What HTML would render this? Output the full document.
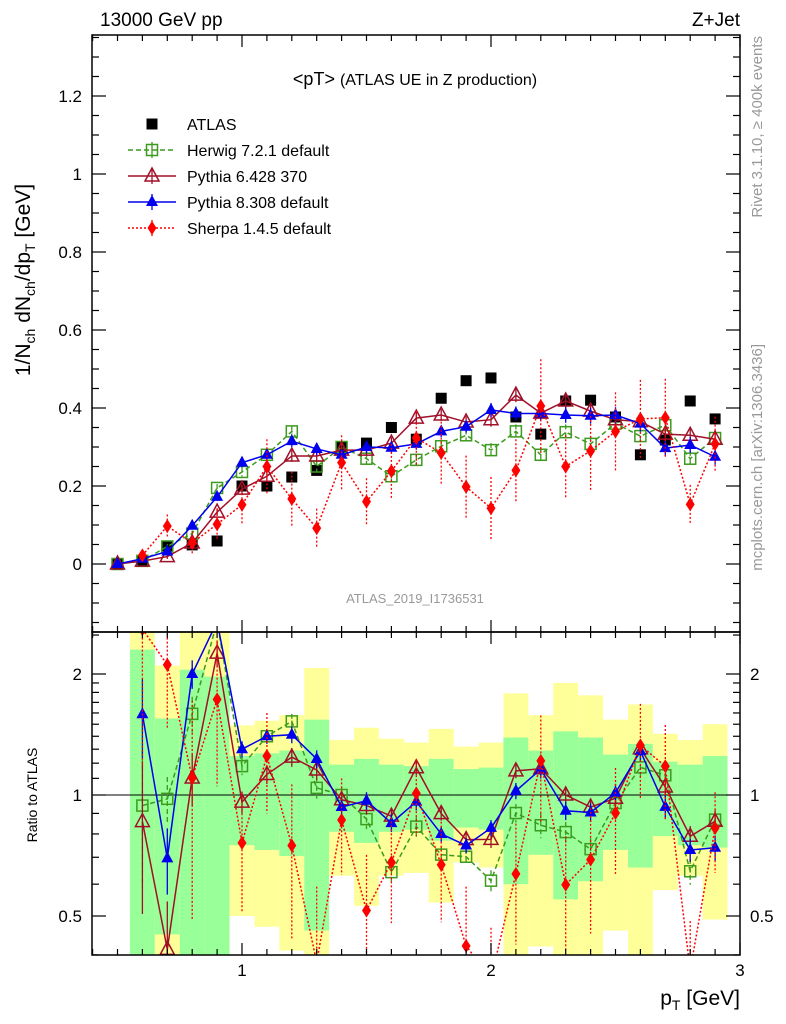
<!DOCTYPE html>
<html><head><meta charset="utf-8">
<style>
html,body{margin:0;padding:0;background:#fff;width:786px;height:1024px;overflow:hidden;}
svg{display:block;font-family:"Liberation Sans","DejaVu Sans",sans-serif;}
</style></head>
<body>
<svg id="chart" width="786" height="1024" viewBox="0 0 786 1024" xmlns="http://www.w3.org/2000/svg">
<defs>
<clipPath id="cm"><rect x="92" y="35" width="648" height="597"/></clipPath>
<clipPath id="cr"><rect x="92" y="632" width="648" height="323"/></clipPath>
</defs>
<g id="bands" clip-path="url(#cr)"></g>
<g id="main" clip-path="url(#cm)"></g>
<g id="ratio" clip-path="url(#cr)"></g>
<g id="axes"></g>
<text x="100" y="26" font-size="19">13000 GeV pp</text>
<text x="740" y="26" font-size="19" text-anchor="end">Z+Jet</text>
<text x="415" y="85" text-anchor="middle" font-size="18">&lt;pT&gt; <tspan font-size="16">(ATLAS UE in Z production)</tspan></text>
<text x="415" y="603" text-anchor="middle" font-size="13" fill="#999">ATLAS_2019_I1736531</text>
<text transform="translate(762,36) rotate(-90)" text-anchor="end" font-size="15" fill="#999">Rivet 3.1.10, ≥ 400k events</text>
<text transform="translate(762,344) rotate(-90)" text-anchor="end" font-size="15" fill="#999">mcplots.cern.ch [arXiv:1306.3436]</text>
<text transform="translate(30,280) rotate(-90)" text-anchor="middle" font-size="21">1/N<tspan font-size="14" dy="5">ch</tspan><tspan dy="-5"> dN</tspan><tspan font-size="14" dy="5">ch</tspan><tspan dy="-5">/dp</tspan><tspan font-size="14" dy="5">T</tspan><tspan dy="-5"> [GeV]</tspan></text>
<text transform="translate(37,795) rotate(-90)" text-anchor="middle" font-size="14">Ratio to ATLAS</text>
<text x="740" y="1005" text-anchor="end" font-size="21">p<tspan font-size="14" dy="5">T</tspan><tspan dy="-5"> [GeV]</tspan></text>
<g id="legend"></g>
<script>
const xs = [0.5,0.6,0.7,0.8,0.9,1.0,1.1,1.2,1.3,1.4,1.5,1.6,1.7,1.8,1.9,2.0,2.1,2.2,2.3,2.4,2.5,2.6,2.7,2.8,2.9];
const atlas = [0,0.0085,0.046,0.049,0.059,0.2,0.2,0.223,0.24,0.3,0.31,0.35,0.32,0.425,0.47,0.477,0.377,0.333,0.418,0.42,0.377,0.28,0.318,0.418,0.372];
const herwig = [0,0.008,0.045,0.078,0.195,0.236,0.28,0.34,0.25,0.30,0.27,0.225,0.267,0.302,0.33,0.292,0.34,0.28,0.338,0.308,0.36,0.328,0.356,0.27,0.323];
const pythia6 = [0,0.0073,0.019,0.054,0.133,0.192,0.225,0.277,0.277,0.292,0.292,0.31,0.374,0.382,0.364,0.37,0.433,0.387,0.418,0.392,0.37,0.365,0.333,0.33,0.32];
const pythia8 = [0,0.0135,0.032,0.098,0.172,0.26,0.28,0.315,0.295,0.28,0.3,0.298,0.308,0.34,0.352,0.395,0.386,0.386,0.382,0.38,0.382,0.36,0.297,0.305,0.275];
const sherpa = [null,0.022,0.097,0.054,0.102,0.152,0.25,0.167,0.092,0.26,0.16,0.238,0.323,0.285,0.198,0.143,0.24,0.405,0.25,0.29,0.34,0.372,0.375,0.153,0.308];
const mcErr = [0,0.003,0.006,0.008,0.01,0.012,0.012,0.015,0.015,0.015,0.015,0.015,0.015,0.015,0.015,0.018,0.018,0.02,0.02,0.02,0.02,0.02,0.02,0.02,0.02];
const sherpaErr = [0,0.012,0.03,0.03,0.04,0.05,0.07,0.07,0.05,0.07,0.06,0.07,0.07,0.08,0.08,0.08,0.08,0.12,0.08,0.1,0.1,0.1,0.1,0.05,0.07];
const greenHi = [null,2.3,1.55,2.05,1.97,1.25,1.27,1.29,1.54,1.19,1.23,1.19,1.18,1.23,1.16,1.17,1.39,1.29,1.44,1.39,1.26,1.34,1.21,1.19,1.25];
const greenLo = [null,0.3,0.45,0.3,0.3,0.75,0.73,0.705,0.46,0.81,0.76,0.81,0.82,0.77,0.83,0.82,0.6,0.71,0.55,0.61,0.73,0.66,0.79,0.75,0.74];
const yellowHi = [null,3,2.1,3,3,1.49,1.53,1.58,2.07,1.37,1.47,1.38,1.35,1.46,1.32,1.35,1.79,1.58,1.9,1.77,1.54,1.68,1.42,1.37,1.5];
const yellowLo = [null,0.3,0.3,0.3,0.3,0.5,0.47,0.41,0.3,0.63,0.53,0.63,0.64,0.54,0.68,0.66,0.4,0.42,0.3,0.3,0.46,0.3,0.58,0.63,0.49];
const yTicks = [0,0.2,0.4,0.6,0.8,1,1.2];
const yTickLabels = ["0","0.2","0.4","0.6","0.8","1","1.2"];
const rTicks = [0.5,1,2];
const rTickLabels = ["0.5","1","2"];
const xTicks = [1,2,3];
const xTickLabels = ["1","2","3"];

const NS="http://www.w3.org/2000/svg";
const X = v => 242 + (v-1)*249;
const Y = v => 564 - v*390;
const R = v => 795 - Math.log2(Math.min(Math.max(v,0.35),2.7))*121;
function mk(parent, tag, attrs){const e=document.createElementNS(NS,tag);for(const k in attrs)e.setAttribute(k,attrs[k]);parent.appendChild(e);return e;}
const gMain=document.getElementById('main'), gRatio=document.getElementById('ratio'), gBands=document.getElementById('bands'), gAxes=document.getElementById('axes'), gLeg=document.getElementById('legend');

xs.forEach((x,i)=>{
  if(greenHi[i]==null) return;
  const x0=X(x-0.05), w=X(x+0.05)-x0;
  let r=mk(gBands,'rect',{x:x0,y:R(yellowHi[i]),width:w,height:R(yellowLo[i])-R(yellowHi[i]),fill:'#ffff99'});
  
  
  r=mk(gBands,'rect',{x:x0,y:R(greenHi[i]),width:w,height:R(greenLo[i])-R(greenHi[i]),fill:'#99ff99'});
  
  
});

function marker(g,type,cx,cy,color){
  let e;
  if(type==='sq') e=mk(g,'rect',{x:cx-5.5,y:cy-5.5,width:11,height:11,fill:color});
  else if(type==='osq') e=mk(g,'rect',{x:cx-5.5,y:cy-5.5,width:11,height:11,fill:'none',stroke:color,'stroke-width':1.5});
  else if(type==='otri') e=mk(g,'polygon',{points:`${cx},${cy-8} ${cx-7},${cy+5} ${cx+7},${cy+5}`,fill:'none',stroke:color,'stroke-width':1.5});
  else if(type==='tri') e=mk(g,'polygon',{points:`${cx},${cy-7} ${cx-6},${cy+4} ${cx+6},${cy+4}`,fill:color});
  else e=mk(g,'polygon',{points:`${cx},${cy-7} ${cx-4.5},${cy} ${cx},${cy+7} ${cx+4.5},${cy}`,fill:color});
  return e;
}
const series=[
 {name:'Herwig 7.2.1 default',vals:herwig,err:mcErr,color:'#3c9a1e',dash:'5,3',m:'osq',id:'herwig'},
 {name:'Pythia 6.428 370',vals:pythia6,err:mcErr,color:'#a01028',dash:'',m:'otri',id:'pythia6'},
 {name:'Pythia 8.308 default',vals:pythia8,err:mcErr,color:'#0000ee',dash:'',m:'tri',id:'pythia8'},
 {name:'Sherpa 1.4.5 default',vals:sherpa,err:sherpaErr,color:'#ff0000',dash:'2,2',m:'dia',id:'sherpa'}
];
xs.forEach((x,i)=>{
  const e=marker(gMain,'sq',X(x),Y(atlas[i]),'#000');
  
  
});
const one=mk(gRatio,'line',{x1:92,x2:740,y1:R(1),y2:R(1),stroke:'#000','stroke-width':1});



series.forEach(s=>{
  const gm=mk(gMain,'g',{});
  
  
  const gr=mk(gRatio,'g',{});
  
  
  let pm=[],pr=[];
  xs.forEach((x,i)=>{
    const v=s.vals[i]; if(v==null) return;
    pm.push(X(x)+','+Y(v));
    if(atlas[i]>0) pr.push(X(x)+','+R(v/atlas[i]));
  });
  const lm=mk(gm,'polyline',{points:pm.join(' '),fill:'none',stroke:s.color,'stroke-width':1.5,'stroke-dasharray':s.dash});
  
  
  const lr=mk(gr,'polyline',{points:pr.join(' '),fill:'none',stroke:s.color,'stroke-width':1.5,'stroke-dasharray':s.dash});
  
  
  xs.forEach((x,i)=>{
    const v=s.vals[i]; if(v==null) return;
    const e=s.err[i];
    const eb=mk(gm,'line',{x1:X(x),x2:X(x),y1:Y(v+e),y2:Y(Math.max(v-e,0)),stroke:s.color,'stroke-width':1.3,'stroke-dasharray':s.dash});
    
    
    const mm=marker(gm,s.m,X(x),Y(v),s.color);
    
    
    if(atlas[i]>0){
      const r=v/atlas[i], rh=(v+e)/atlas[i], rl=(v-e)/atlas[i];
      const er=mk(gr,'line',{x1:X(x),x2:X(x),y1:R(rh),y2:R(rl),stroke:s.color,'stroke-width':1.3,'stroke-dasharray':s.dash});
      
      
      const mr=marker(gr,s.m,X(x),R(r),s.color);
      
      
    }
  });
});

[[35,632],[632,955]].forEach(([t,b],k)=>{
  const f=mk(gAxes,'rect',{x:92,y:t,width:648,height:b-t,fill:'none',stroke:'#000','stroke-width':1.5});
  
  
});
for(let k=4;k<=30;k++){
  const v=k/10, major=(k%10===0), L=major?12:6;
  [[35,1],[632,-1],[632,1],[955,-1]].forEach(([y,d])=>{
    const t=mk(gAxes,'line',{x1:X(v),x2:X(v),y1:y,y2:y+d*L,stroke:'#000','stroke-width':1.2});
    
    
  });
}
xTicks.forEach((v,i)=>{
  const t=mk(gAxes,'text',{x:X(v),y:976,'text-anchor':'middle','font-size':17});
  t.textContent=xTickLabels[i];
  
  
});
for(let k=-3;k<=27;k++){
  const v=k*0.05, yy=Y(v); if(yy<35||yy>632) continue;
  const major=(k%4===0), L=major?14:7;
  [[92,1],[740,-1]].forEach(([x,d])=>{
    const t=mk(gAxes,'line',{x1:x,x2:x+d*L,y1:yy,y2:yy,stroke:'#000','stroke-width':1.2});
    
    
  });
}
yTicks.forEach((v,i)=>{
  const t=mk(gAxes,'text',{x:82,y:Y(v)+6,'text-anchor':'end','font-size':17});
  t.textContent=yTickLabels[i];
  
  
});
[0.4,0.5,0.6,0.7,0.8,0.9,1,1.1,1.2,1.3,1.4,1.5,1.6,1.7,1.8,1.9,2,2.5].forEach(v=>{
  const major=rTicks.includes(v), L=major?14:7;
  [[92,1],[740,-1]].forEach(([x,d])=>{
    const t=mk(gAxes,'line',{x1:x,x2:x+d*L,y1:R(v),y2:R(v),stroke:'#000','stroke-width':1.2});
    
    
  });
});
rTicks.forEach((v,i)=>{
  [[82,'end'],[750,'start']].forEach(([x,a])=>{
    const t=mk(gAxes,'text',{x:x,y:R(v)+6,'text-anchor':a,'font-size':17});
    t.textContent=rTickLabels[i];
    
    
  });
});
const legItems=[{name:'ATLAS',color:'#000',dash:null,m:'sq'}].concat(series);
legItems.forEach((s,i)=>{
  const y=124+i*26;
  const g=mk(gLeg,'g',{});
  
  
  if(s.dash!==null) mk(g,'line',{x1:128,x2:176,y1:y,y2:y,stroke:s.color,'stroke-width':1.5,'stroke-dasharray':s.dash});
  if(s.dash!==null) mk(g,'line',{x1:152,x2:152,y1:y-8,y2:y+8,stroke:s.color,'stroke-width':1.3});
  marker(g,s.m,152,y,s.color);
  const t=mk(g,'text',{x:187,y:y+6,'font-size':16});
  t.textContent=s.name;
});
</script>
</svg>
</body></html>
